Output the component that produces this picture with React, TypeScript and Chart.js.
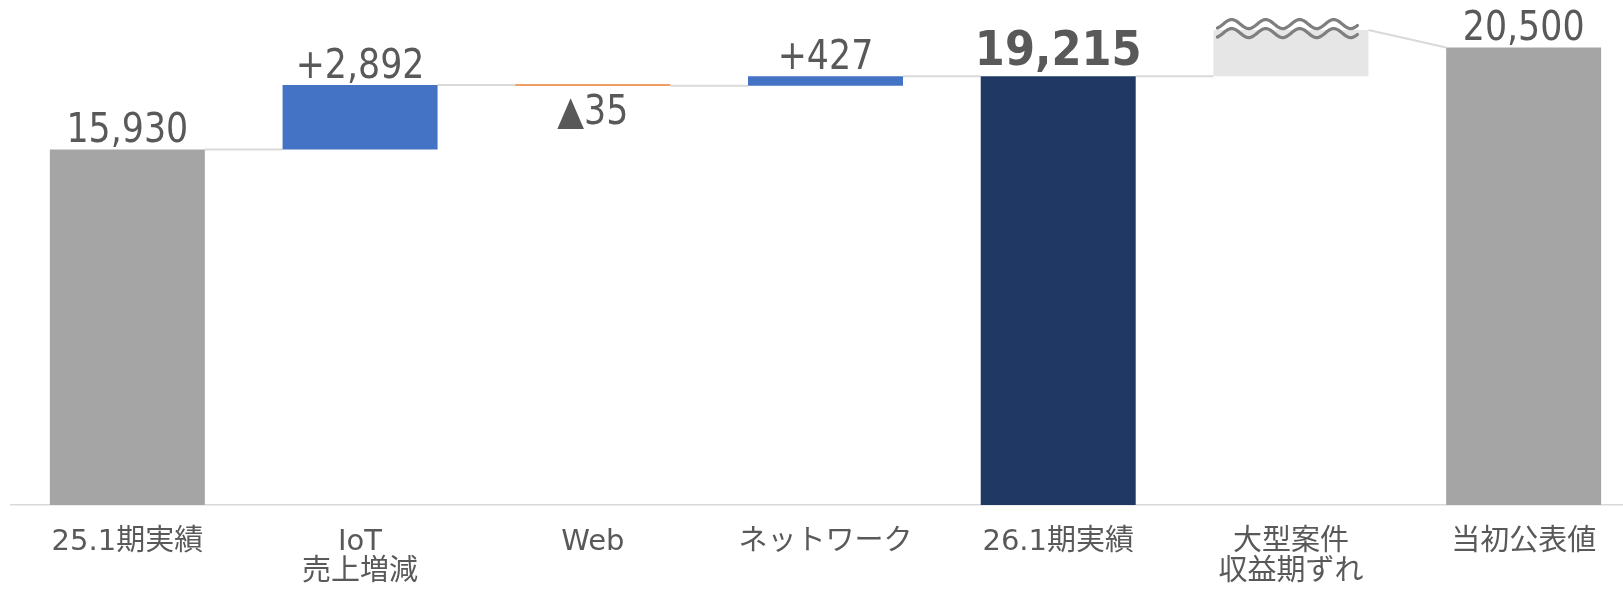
import React, { useEffect, useRef } from "react";
import { Chart, registerables } from "chart.js";

Chart.register(...registerables);

// ---- data ----
const categories: (string | string[])[] = [
  "25.1期実績",
  ["IoT", "売上増減"],
  "Web",
  "ネットワーク",
  "26.1期実績",
  ["大型案件", "収益期ずれ"],
  "当初公表値",
];
const barStarts = [0, 15930, 18787, 18787, 0, 19215, 0];
const barEnds = [15930, 18822, 18822, 19214, 19215, 21280, 20500];
const barColors = ["#A5A5A5", "#4472C4", "#ED7D31", "#4472C4", "#203864", "#E6E6E6", "#A5A5A5"];
const valueLabels = ["15,930", "+2,892", "▲35", "+427", "19,215", "", "20,500"];
const labelBelow = [false, false, true, false, false, false, false];
const labelBold = [false, false, false, false, true, false, false];
// connector lines between consecutive bars (value at right edge of bar i, value at left edge of bar i+1)
const connectorFrom = [15930, 18822, 18787, 19214, 19215, 21280];
const connectorTo = [15930, 18822, 18787, 19214, 19215, 20500];
const brokenBarIndex = 5;
const yMax = 22000;

const FONT = "'DejaVu Sans', 'Noto Sans CJK JP', sans-serif";
const TEXT_COLOR = "#595959";

function drawScaledText(ctx: any, txt: string, x: number, y: number, sx: number) {
  ctx.save();
  ctx.translate(x, y);
  ctx.scale(sx, 1);
  ctx.fillText(txt, 0, 0);
  ctx.restore();
}

const waterfallPlugin = {
  id: "waterfallExtras",
  beforeDatasetsDraw(chart: any) {
    const ctx = chart.ctx;
    const meta = chart.getDatasetMeta(0);
    const y = chart.scales.y;
    ctx.save();
    ctx.strokeStyle = "#D9D9D9";
    ctx.lineWidth = 2;
    for (let i = 0; i < connectorFrom.length; i++) {
      const a = meta.data[i];
      const b = meta.data[i + 1];
      if (!a || !b) continue;
      const x1 = a.x + a.width / 2;
      const x2 = b.x - b.width / 2;
      ctx.beginPath();
      ctx.moveTo(x1, y.getPixelForValue(connectorFrom[i]));
      ctx.lineTo(x2, y.getPixelForValue(connectorTo[i]));
      ctx.stroke();
    }
    ctx.restore();
  },
  afterDatasetsDraw(chart: any) {
    const ctx = chart.ctx;
    const meta = chart.getDatasetMeta(0);
    const y = chart.scales.y;

    // wavy "break" marks on the broken bar
    const bb = meta.data[brokenBarIndex];
    if (bb) {
      const top = y.getPixelForValue(barEnds[brokenBarIndex]);
      const left = bb.x - bb.width / 2 + 4;
      const right = bb.x + bb.width / 2 - 10;
      const period = 34;
      const amp = 4.5;
      ctx.save();
      ctx.strokeStyle = "#7F7F7F";
      ctx.lineWidth = 3.2;
      ctx.lineCap = "round";
      [top - 6, top + 3].forEach((c) => {
        ctx.beginPath();
        for (let x = left; x <= right; x += 1) {
          const yy = c + amp * Math.cos((2 * Math.PI * (x - left)) / period + 0.5);
          if (x === left) ctx.moveTo(x, yy);
          else ctx.lineTo(x, yy);
        }
        ctx.stroke();
      });
      ctx.restore();
    }

    // value labels
    ctx.save();
    ctx.fillStyle = TEXT_COLOR;
    ctx.textAlign = "center";
    ctx.textBaseline = "alphabetic";
    for (let i = 0; i < valueLabels.length; i++) {
      const txt = valueLabels[i];
      if (!txt) continue;
      const el = meta.data[i];
      const hi = Math.max(barStarts[i], barEnds[i]);
      const lo = Math.min(barStarts[i], barEnds[i]);
      if (labelBold[i]) {
        ctx.font = `bold 48px ${FONT}`;
        drawScaledText(ctx, txt, el.x, y.getPixelForValue(hi) - 11, 0.9);
      } else if (labelBelow[i]) {
        ctx.font = `40px ${FONT}`;
        drawScaledText(ctx, txt, el.x, y.getPixelForValue(lo) + 38, 0.87);
      } else {
        ctx.font = `40px ${FONT}`;
        drawScaledText(ctx, txt, el.x, y.getPixelForValue(hi) - 7, 0.87);
      }
    }
    ctx.restore();
  },
};

export default function App() {
  const ref = useRef<HTMLCanvasElement | null>(null);

  useEffect(() => {
    if (!ref.current) return;
    const chart = new Chart(ref.current, {
      type: "bar",
      data: {
        labels: categories,
        datasets: [
          {
            data: barStarts.map((s, i) => [s, barEnds[i]]),
            backgroundColor: barColors,
            borderWidth: 0,
            minBarLength: 1.5,
            categoryPercentage: 1,
            barPercentage: 0.666,
          } as any,
        ],
      },
      options: {
        responsive: false,
        animation: false,
        layout: { padding: { left: 11, right: 20, top: 14, bottom: 0 } },
        plugins: {
          legend: { display: false },
          tooltip: { enabled: false },
        },
        scales: {
          x: {
            offset: true,
            grid: { display: false, drawTicks: false },
            border: { display: true, color: "#D9D9D9", width: 1.5 },
            ticks: {
              color: TEXT_COLOR,
              font: { family: FONT, size: 29, lineHeight: 30 / 29 },
              padding: 22,
              maxRotation: 0,
              autoSkip: false,
            },
            afterFit: (scale: any) => {
              scale.height = 86;
            },
          },
          y: {
            display: false,
            min: 0,
            max: yMax,
          },
        },
      },
      plugins: [waterfallPlugin],
    });
    return () => chart.destroy();
  }, []);

  return (
    <div
      style={{
        position: "fixed",
        left: 0,
        top: 0,
        width: "1623px",
        height: "591px",
        overflow: "hidden",
        background: "#fff",
      }}
    >
      <canvas
        ref={ref}
        width={1660}
        height={591}
        style={{ position: "absolute", left: 0, top: 0, width: "1660px", height: "591px" }}
      />
    </div>
  );
}
